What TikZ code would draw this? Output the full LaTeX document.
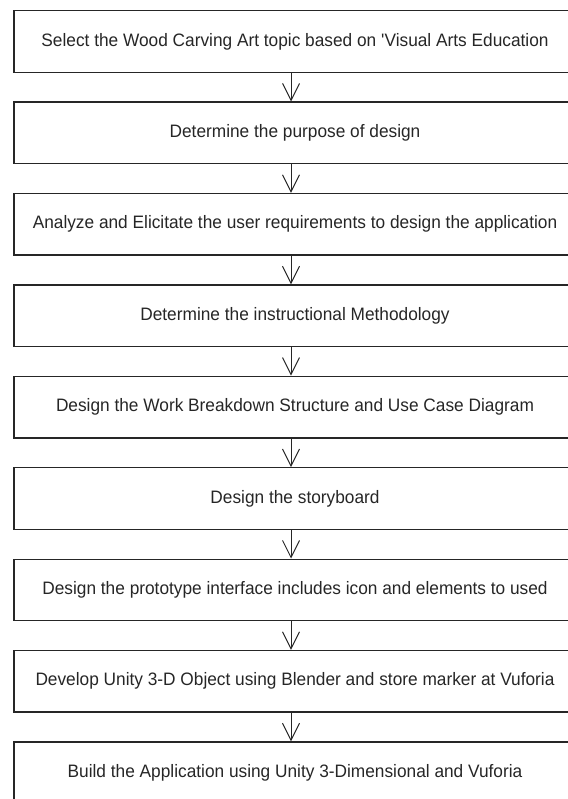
\documentclass[tikz,border=0pt]{standalone}
\usepackage{fontspec}
\setmainfont{Liberation Sans}
\usetikzlibrary{positioning,arrows.meta}

\begin{document}
\begin{tikzpicture}[node distance=28.6pt,
every node/.style={font=\fontsize{18}{21}\selectfont\addfontfeature{FakeStretch=0.96}, text=black!85, rectangle, draw=black!85, line width=1.3pt, minimum width=562pt, minimum height=61.5pt, inner sep=0pt},
flow/.style={draw=black!85, line width=1pt, -{Straight Barb[length=17pt,width=17pt,line width=1pt]}}]
\useasboundingbox (0,0) rectangle (567pt,-799pt);
\node (a) at (295pt,-41.5pt) {Select the Wood Carving Art topic based on \textquotesingle Visual Arts Education};
\node [below=of a] (b) {Determine the purpose of design};
\node [below=of b] (c) {Analyze and Elicitate the user requirements to design the application};
\node [below=of c] (d) {Determine the instructional Methodology};
\node [below=of d] (e) {Design the Work Breakdown Structure and Use Case Diagram};
\node [below=of e] (f) {Design the storyboard};
\node [below=of f] (g) {Design the prototype interface includes icon and elements to used};
\node [below=of g] (h) {Develop Unity 3-D Object using Blender and store marker at Vuforia};
\node [below=of h] (i) {Build the Application using Unity 3-Dimensional and Vuforia};
\draw [flow] ([xshift=-4pt]a.south) -- ([xshift=-4pt]b.north);
\draw [flow] ([xshift=-4pt]b.south) -- ([xshift=-4pt]c.north);
\draw [flow] ([xshift=-4pt]c.south) -- ([xshift=-4pt]d.north);
\draw [flow] ([xshift=-4pt]d.south) -- ([xshift=-4pt]e.north);
\draw [flow] ([xshift=-4pt]e.south) -- ([xshift=-4pt]f.north);
\draw [flow] ([xshift=-4pt]f.south) -- ([xshift=-4pt]g.north);
\draw [flow] ([xshift=-4pt]g.south) -- ([xshift=-4pt]h.north);
\draw [flow] ([xshift=-4pt]h.south) -- ([xshift=-4pt]i.north);
\end{tikzpicture}
\end{document}
